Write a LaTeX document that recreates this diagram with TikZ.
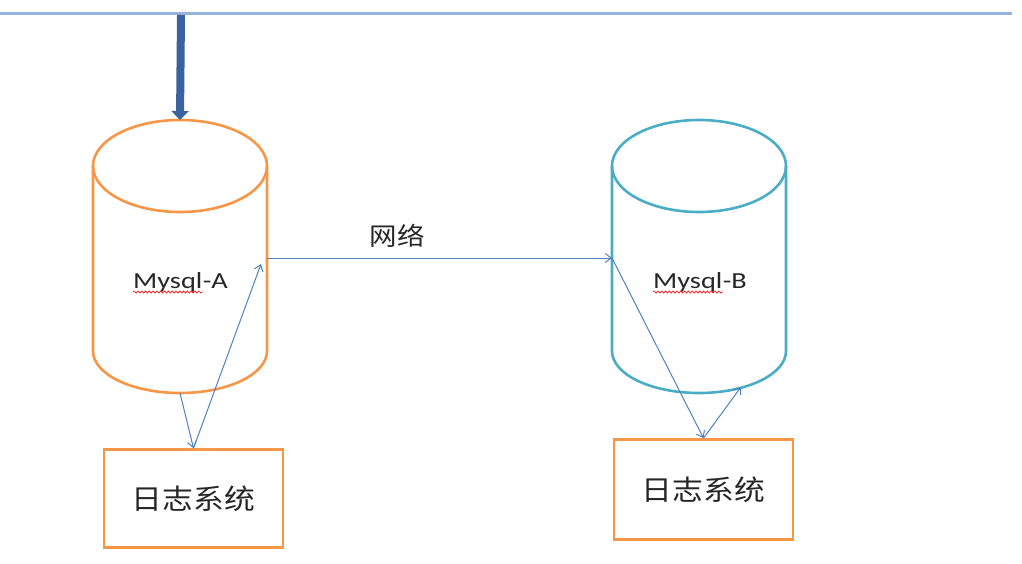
\documentclass[tikz,border=0pt]{standalone}
\usepackage{fontspec}
\setmainfont{Carlito}[FakeStretch=1.23]
\newfontfamily\cjk{Noto Sans CJK SC}[FakeStretch=1.1]
\usepackage{tikz}
\usetikzlibrary{arrows.meta, positioning, decorations.pathmorphing}

\definecolor{dbOrange}{HTML}{F79646}
\definecolor{dbTeal}{HTML}{4BACC6}
\definecolor{linkBlue}{HTML}{4F81BD}
\definecolor{feedBlue}{HTML}{3A62A0}
\definecolor{busBlue}{HTML}{95B3D7}

\begin{document}
\begin{tikzpicture}[x=1pt, y=-1pt,
  dbslot/.style={inner sep=0pt, outer sep=0pt, minimum width=174pt, minimum height=273pt},
  can/.style={line width=2.6pt},
  dbtext/.style={inner sep=0pt, anchor=base west, text=black!85, font=\fontsize{23}{27}\selectfont},
  logbox/.style={draw=dbOrange, line width=2.6pt, minimum width=179pt,
    minimum height=98pt, text=black!85, font=\cjk\fontsize{28}{32}\selectfont},
  link/.style={linkBlue, line width=1pt, -{Straight Barb[length=6pt, width=9pt]}},
  feed/.style={feedBlue, line width=8pt, -{Triangle[length=9pt, width=17pt]}},
  wave/.style={red, line width=0.6pt, decorate, decoration={snake, amplitude=1.1pt, segment length=3.8pt}}]

\useasboundingbox (0,0) rectangle (1022,564);

% bus along the top
\coordinate (busL) at (0,13.5);
\coordinate (busR) at (1012,13.5);
\coordinate (busA) at (181,15);
\draw[busBlue, line width=3pt] (busL) -- (busR);

% the two databases
\node[dbslot] (dbA) at (180,256.5) {};
\node[dbslot] (dbB) at (699,256.5) {};
\draw[can, dbOrange] ([shift={(0,46)}]dbA.north) ellipse [x radius=87, y radius=46];
\draw[can, dbOrange] ([shift={(0,46)}]dbA.north west) -- ([shift={(0,-42)}]dbA.south west)
  arc[start angle=180, end angle=0, x radius=87, y radius=42] -- ([shift={(0,46)}]dbA.north east);
\draw[can, dbTeal] ([shift={(0,46)}]dbB.north) ellipse [x radius=87, y radius=46];
\draw[can, dbTeal] ([shift={(0,46)}]dbB.north west) -- ([shift={(0,-42)}]dbB.south west)
  arc[start angle=180, end angle=0, x radius=87, y radius=42] -- ([shift={(0,46)}]dbB.north east);

\node[dbtext] (wordA) at (133,288) {Mysql};
\node[dbtext] (tagA) at (wordA.base east) {-A};
\node[dbtext] (wordB) at (653,288) {Mysql};
\node[dbtext] (tagB) at (wordB.base east) {-B};
\draw[wave] ([yshift=-4pt]wordA.base west) -- ([yshift=-4pt]wordA.base east);
\draw[wave] ([yshift=-4pt]wordB.base west) -- ([yshift=-4pt]wordB.base east);

\node[logbox] (logA) at (193.5,498.5) {日志系统};
\node[logbox, minimum height=100pt] (logB) at (703.5,489.5) {日志系统};

\draw[feed] (busA) -- (dbA.north);

\coordinate (net) at (0,258);
\draw[link] (dbA.east |- net) -- (dbB.west |- net);
\node[font=\cjk\fontsize{25}{28}\selectfont, text=black!85] (netlbl) at (397,236) {网络};

\coordinate (aUp) at (261,264);
\coordinate (bUp) at (741,387);
\draw[link] (dbA.south) -- (logA.north);
\draw[link] (logA.north) -- (aUp);
\draw[link] (dbB.west |- net) -- (logB.north);
\draw[link] (logB.north) -- (bUp);

\end{tikzpicture}
\end{document}
